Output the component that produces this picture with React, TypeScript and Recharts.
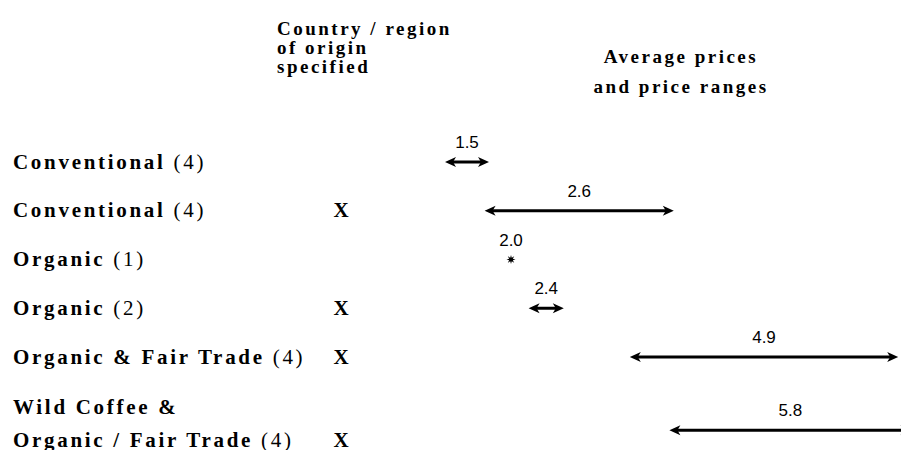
import React from 'react'
import { BarChart, Bar, XAxis, YAxis } from 'recharts'

// One row per product group, top to bottom
const categories = [
  'Conventional (4)',
  'Conventional (4)',
  'Organic (1)',
  'Organic (2)',
  'Organic & Fair Trade (4)',
  'Wild Coffee &\nOrganic / Fair Trade (4)',
]

// "X" in the country / region of origin column
const originSpecified = [false, true, false, true, true, true]

// Price ranges (low / high) and the average price printed above each arrow
const lowPrices = [1.25, 1.7, 2.0, 2.2, 3.35, 3.8]
const highPrices = [1.75, 3.85, 2.0, 2.6, 6.4, 6.55]
const averagePrices = [1.5, 2.6, 2.0, 2.4, 4.9, 5.8]

const rows = categories.map((name, i) => ({
  name,
  origin: originSpecified[i],
  range: [lowPrices[i], highPrices[i]] as number[] | null,
  avg: averagePrices[i] as number | null,
}))

// half-height gaps between the rows; the two-line label at the bottom
// takes an extra gap
const gap = () => ({ name: ' ', origin: false, range: null, avg: null })
const data = [
  rows[0], gap(),
  rows[1], gap(),
  rows[2], gap(),
  rows[3], gap(),
  rows[4], gap(), gap(),
  rows[5],
]

const SERIF = "'Liberation Serif', 'Times New Roman', serif"

// Category label on the left plus the X column
const RowTick = (props: any) => {
  const { x, y, payload } = props
  const row = data[payload.index]
  if (!row || !row.range) return null
  const lines = row.name.split('\n')
  const n = lines.length
  const base = y + 6.5 + (n - 1) * 10
  return (
    <g>
      {lines.map((line: string, i: number) => {
        const m = line.match(/^(.*?)(\s\(\d+\))?$/)
        const bold = m ? m[1] : line
        const rest = m && m[2] ? m[2] : ''
        return (
          <text
            key={i}
            x={x - 322}
            y={base - (n - 1 - i) * 33}
            fill="#000"
            fontFamily={SERIF}
            fontSize={21}
            style={{ letterSpacing: 2.7 }}
          >
            <tspan fontWeight="bold">{bold}</tspan>
            {rest && <tspan>{rest}</tspan>}
          </text>
        )
      })}
      {row.origin && (
        <text
          x={x + 6}
          y={base}
          textAnchor="middle"
          fill="#000"
          fontFamily={SERIF}
          fontSize={21}
          fontWeight="bold"
        >
          X
        </text>
      )}
    </g>
  )
}

// Double-headed arrow spanning the price range, average on top
const ArrowShape = (props: any) => {
  const { x, y, width, height, payload } = props
  if (!payload || !payload.range) return null
  const cy = y + height / 2
  const x1 = x
  const x2 = x + width
  const mid = (x1 + x2) / 2
  const label = (
    <text
      x={mid}
      y={cy - 14}
      textAnchor="middle"
      fill="#000"
      fontFamily="'Liberation Sans', Arial, sans-serif"
      fontSize={17}
    >
      {payload.avg.toFixed(1)}
    </text>
  )
  if (width < 1) {
    const pts = []
    for (let k = 0; k < 16; k++) {
      const r = k % 2 === 0 ? 4.5 : 2
      const a = (Math.PI * k) / 8
      pts.push(`${mid + r * Math.cos(a)},${cy + r * Math.sin(a)}`)
    }
    return (
      <g>
        <polygon points={pts.join(' ')} fill="#000" />
        {label}
      </g>
    )
  }
  return (
    <g>
      <line x1={x1 + 6} x2={x2 - 6} y1={cy} y2={cy} stroke="#000" strokeWidth={3} />
      <path
        d={`M${x1},${cy} L${x1 + 11},${cy - 5} L${x1 + 8},${cy} L${x1 + 11},${cy + 5} Z`}
        fill="#000"
      />
      <path
        d={`M${x2},${cy} L${x2 - 11},${cy - 5} L${x2 - 8},${cy} L${x2 - 11},${cy + 5} Z`}
        fill="#000"
      />
      {label}
    </g>
  )
}

const headerStyle: React.CSSProperties = {
  position: 'absolute',
  fontFamily: SERIF,
  fontWeight: 'bold',
  fontSize: 19,
  letterSpacing: 2.5,
  color: '#000',
  whiteSpace: 'nowrap',
}

export default function App() {
  return (
    <div
      style={{
        position: 'absolute',
        left: 0,
        top: 0,
        width: 901,
        height: 450,
        overflow: 'hidden',
        background: '#fff',
      }}
    >
      <div style={{ position: 'absolute', left: 0, top: 0 }}>
        <BarChart
          width={980}
          height={480}
          data={data}
          layout="vertical"
          margin={{ top: 150, right: 29, left: 0, bottom: 37.5 }}
        >
          <XAxis type="number" domain={[0, 7]} hide />
          <YAxis
            type="category"
            dataKey="name"
            width={335}
            axisLine={false}
            tickLine={false}
            tickSize={0}
            tickMargin={0}
            interval={0}
            tick={<RowTick />}
          />
          <Bar
            dataKey="range"
            barSize={12}
            isAnimationActive={false}
            shape={<ArrowShape />}
          />
        </BarChart>
      </div>
      <div style={{ ...headerStyle, left: 277, top: 19, lineHeight: '19px' }}>
        Country / region
        <br />
        of origin
        <br />
        specified
      </div>
      <div
        style={{
          ...headerStyle,
          left: 581,
          top: 42,
          width: 200,
          textAlign: 'center',
          lineHeight: '30px',
        }}
      >
        Average prices
        <br />
        and price ranges
      </div>
    </div>
  )
}
